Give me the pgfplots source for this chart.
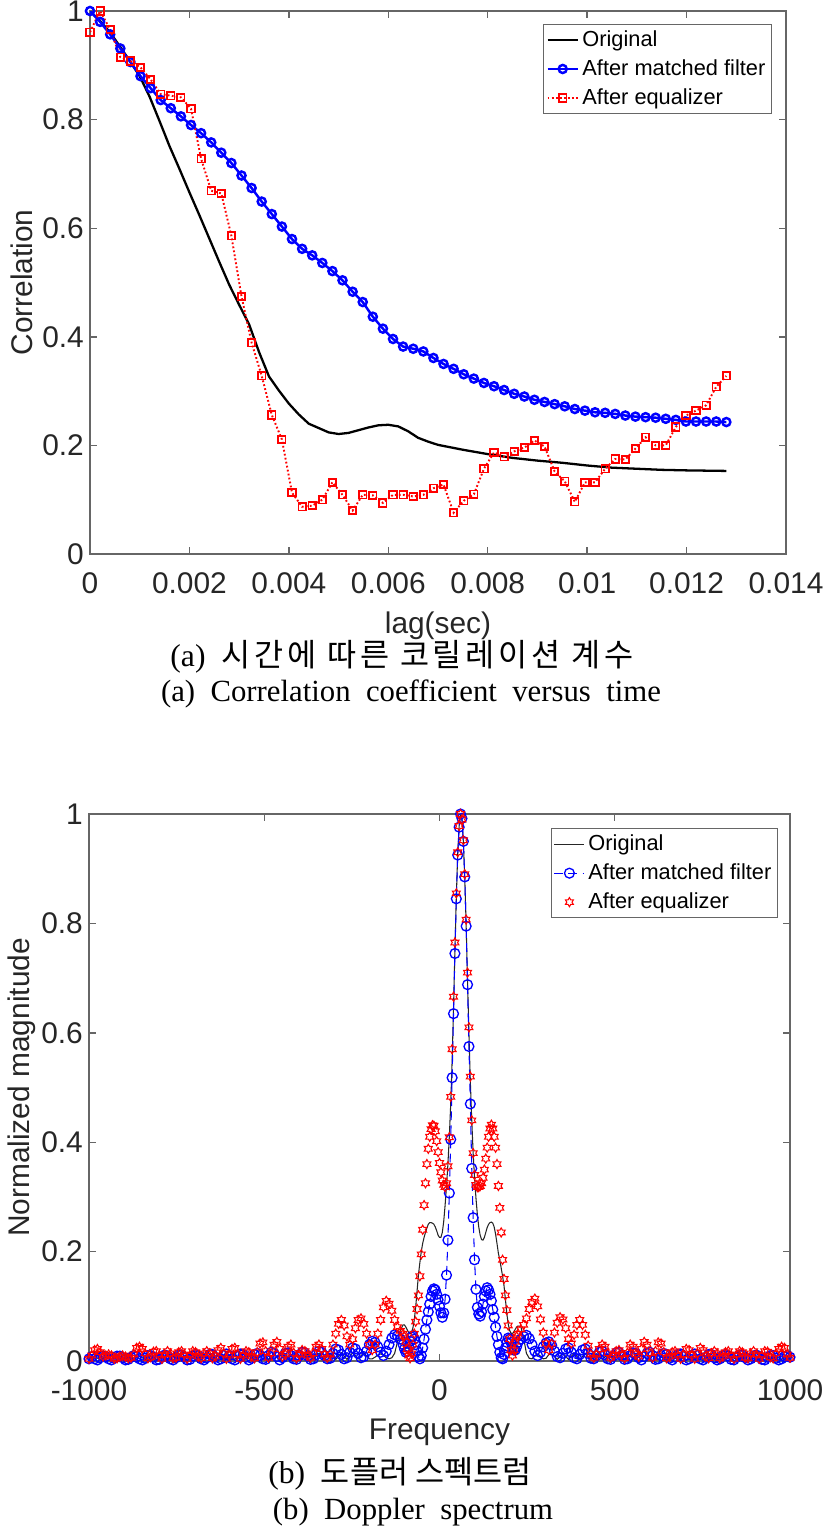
\documentclass[border=0pt]{standalone}
\usepackage{fontspec}
\setmainfont{Liberation Sans}
\newfontfamily\capserif{Liberation Serif}
\newfontfamily\kr[LetterSpace=12]{Noto Sans CJK KR}
\newfontfamily\krb{Noto Sans CJK KR}
\usepackage{pgfplots}
\usepackage{pgfplotstable}
\pgfplotsset{compat=1.18}

\pgfdeclareplotmark{hexagram}{%
\pgfpathmoveto{\pgfpointpolar{90}{\pgfplotmarksize}}%
\pgfpathlineto{\pgfpointpolar{120}{0.577\pgfplotmarksize}}%
\pgfpathlineto{\pgfpointpolar{150}{\pgfplotmarksize}}%
\pgfpathlineto{\pgfpointpolar{180}{0.577\pgfplotmarksize}}%
\pgfpathlineto{\pgfpointpolar{210}{\pgfplotmarksize}}%
\pgfpathlineto{\pgfpointpolar{240}{0.577\pgfplotmarksize}}%
\pgfpathlineto{\pgfpointpolar{270}{\pgfplotmarksize}}%
\pgfpathlineto{\pgfpointpolar{300}{0.577\pgfplotmarksize}}%
\pgfpathlineto{\pgfpointpolar{330}{\pgfplotmarksize}}%
\pgfpathlineto{\pgfpointpolar{0}{0.577\pgfplotmarksize}}%
\pgfpathlineto{\pgfpointpolar{30}{\pgfplotmarksize}}%
\pgfpathlineto{\pgfpointpolar{60}{0.577\pgfplotmarksize}}%
\pgfpathclose\pgfusepathqstroke}

\pgfplotstableread{
x b r
0 1.000 0.961
0.000203 0.980 1.000
0.000406 0.957 0.966
0.000610 0.931 0.915
0.000813 0.906 0.908
0.001016 0.880 0.896
0.001219 0.858 0.874
0.001422 0.836 0.847
0.001625 0.821 0.844
0.001829 0.806 0.841
0.002032 0.790 0.820
0.002235 0.775 0.728
0.002438 0.758 0.669
0.002641 0.739 0.664
0.002844 0.720 0.586
0.003048 0.697 0.474
0.003251 0.674 0.389
0.003454 0.649 0.328
0.003657 0.626 0.256
0.003860 0.603 0.211
0.004063 0.580 0.113
0.004267 0.562 0.087
0.004470 0.550 0.089
0.004673 0.536 0.100
0.004876 0.521 0.132
0.005079 0.504 0.109
0.005283 0.483 0.080
0.005486 0.464 0.109
0.005689 0.437 0.108
0.005892 0.415 0.094
0.006095 0.396 0.109
0.006298 0.382 0.109
0.006502 0.378 0.106
0.006705 0.373 0.109
0.006908 0.361 0.121
0.007111 0.350 0.128
0.007314 0.341 0.076
0.007517 0.331 0.098
0.007721 0.323 0.110
0.007924 0.315 0.157
0.008127 0.309 0.187
0.008330 0.302 0.179
0.008533 0.295 0.189
0.008737 0.290 0.196
0.008940 0.284 0.209
0.009143 0.280 0.198
0.009346 0.276 0.152
0.009549 0.272 0.134
0.009752 0.267 0.096
0.009956 0.264 0.132
0.010159 0.261 0.132
0.010362 0.260 0.157
0.010565 0.258 0.175
0.010768 0.255 0.174
0.010971 0.253 0.194
0.011175 0.252 0.215
0.011378 0.251 0.200
0.011581 0.249 0.200
0.011784 0.247 0.234
0.011987 0.244 0.255
0.012190 0.244 0.264
0.012394 0.244 0.274
0.012597 0.244 0.308
0.012800 0.243 0.328
}\corrtab

\pgfplotstableread{
x y
0 1.000
0.0002 0.982
0.0004 0.961
0.0006 0.935
0.0008 0.908
0.0010 0.880
0.0012 0.842
0.0014 0.797
0.0016 0.751
0.0018 0.709
0.0020 0.666
0.0022 0.624
0.0024 0.581
0.0026 0.538
0.0028 0.496
0.0030 0.459
0.0032 0.423
0.0034 0.372
0.0036 0.327
0.0038 0.301
0.0040 0.277
0.0042 0.257
0.0044 0.240
0.0046 0.232
0.0048 0.224
0.0050 0.221
0.0052 0.223
0.0054 0.228
0.0056 0.233
0.0058 0.237
0.0060 0.238
0.0062 0.235
0.0064 0.226
0.0066 0.214
0.0068 0.207
0.0070 0.201
0.0075 0.192
0.0080 0.184
0.0085 0.177
0.0090 0.172
0.0095 0.168
0.0100 0.163
0.0105 0.159
0.0110 0.157
0.0115 0.155
0.0120 0.154
0.0128 0.153
}\origA

\pgfplotstableread{
f b r
-1000 0.004 0.004
-992 0.008 0.010
-984 0.004 0.020
-976 0.002 0.022
-968 0.006 0.016
-960 0.009 0.008
-952 0.008 0.010
-944 0.004 0.012
-936 0.002 0.010
-928 0.005 0.004
-920 0.009 0.005
-912 0.009 0.008
-904 0.006 0.010
-896 0.002 0.008
-888 0.003 0.005
-880 0.007 0.006
-872 0.010 0.012
-864 0.008 0.024
-856 0.004 0.026
-848 0.002 0.022
-840 0.005 0.014
-832 0.010 0.005
-824 0.010 0.007
-816 0.007 0.017
-808 0.002 0.018
-800 0.003 0.010
-792 0.008 0.004
-784 0.011 0.012
-776 0.009 0.018
-768 0.004 0.014
-760 0.002 0.005
-752 0.006 0.006
-744 0.011 0.016
-736 0.011 0.018
-728 0.007 0.012
-720 0.002 0.004
-712 0.003 0.010
-704 0.009 0.018
-696 0.012 0.016
-688 0.010 0.008
-680 0.004 0.005
-672 0.002 0.014
-664 0.006 0.018
-656 0.012 0.014
-648 0.012 0.005
-640 0.007 0.008
-632 0.002 0.020
-624 0.004 0.024
-616 0.010 0.014
-608 0.013 0.004
-600 0.010 0.010
-592 0.004 0.022
-584 0.002 0.024
-576 0.008 0.012
-568 0.013 0.004
-560 0.012 0.010
-552 0.007 0.018
-544 0.002 0.016
-536 0.005 0.008
-528 0.012 0.005
-520 0.014 0.016
-512 0.010 0.032
-504 0.004 0.034
-496 0.003 0.018
-488 0.010 0.006
-480 0.016 0.014
-472 0.014 0.030
-464 0.008 0.035
-456 0.002 0.022
-448 0.006 0.008
-440 0.014 0.012
-432 0.015 0.026
-424 0.010 0.030
-416 0.004 0.015
-408 0.003 0.005
-400 0.010 0.012
-392 0.016 0.020
-384 0.015 0.018
-376 0.009 0.010
-368 0.003 0.006
-360 0.004 0.014
-352 0.012 0.026
-344 0.018 0.030
-336 0.016 0.022
-328 0.010 0.012
-320 0.004 0.006
-312 0.005 0.012
-304 0.014 0.030
-296 0.022 0.050
-288 0.020 0.068
-280 0.012 0.075
-272 0.004 0.065
-264 0.006 0.045
-256 0.016 0.030
-248 0.024 0.040
-240 0.022 0.060
-232 0.014 0.075
-224 0.006 0.078
-216 0.008 0.068
-208 0.018 0.050
-200 0.030 0.030
-192 0.036 0.020
-184 0.034 0.030
-176 0.026 0.050
-168 0.016 0.075
-160 0.010 0.098
-152 0.018 0.110
-144 0.030 0.105
-136 0.042 0.092
-128 0.048 0.075
-120 0.046 0.062
-112 0.040 0.055
-104 0.030 0.050
-100 0.022 0.045
-96 0.016 0.035
-92 0.018 0.022
-88 0.026 0.010
-84 0.036 0.005
-80 0.044 0.014
-76 0.046 0.030
-72 0.040 0.050
-68 0.030 0.072
-64 0.018 0.095
-60 0.008 0.120
-56 0.004 0.155
-52 0.010 0.195
-48 0.024 0.240
-44 0.040 0.285
-40 0.058 0.325
-36 0.075 0.360
-32 0.090 0.388
-28 0.104 0.410
-24 0.118 0.424
-20 0.128 0.431
-16 0.132 0.430
-12 0.130 0.420
-8 0.122 0.402
-4 0.112 0.382
0 0.100 0.362
4 0.088 0.345
8 0.080 0.330
12 0.088 0.322
16 0.113 0.318
20 0.157 0.325
24 0.221 0.356
28 0.307 0.409
32 0.405 0.483
36 0.518 0.570
40 0.635 0.666
44 0.745 0.765
48 0.845 0.855
52 0.925 0.930
56 0.976 0.978
60 1.000 1.000
64 0.992 0.990
68 0.950 0.952
72 0.885 0.890
76 0.795 0.807
80 0.688 0.710
84 0.575 0.610
88 0.470 0.520
92 0.352 0.440
96 0.262 0.380
100 0.185 0.340
104 0.131 0.322
108 0.098 0.318
112 0.086 0.318
116 0.082 0.320
120 0.090 0.325
124 0.104 0.335
128 0.118 0.350
132 0.128 0.370
136 0.134 0.390
140 0.130 0.410
144 0.122 0.425
148 0.110 0.432
152 0.094 0.425
156 0.080 0.410
160 0.062 0.390
164 0.045 0.360
168 0.030 0.320
172 0.016 0.280
176 0.006 0.235
180 0.004 0.185
184 0.012 0.150
188 0.024 0.120
192 0.034 0.093
196 0.042 0.065
200 0.040 0.040
204 0.034 0.020
208 0.026 0.010
212 0.020 0.020
216 0.020 0.035
220 0.026 0.045
224 0.034 0.050
232 0.040 0.058
240 0.045 0.066
248 0.047 0.078
256 0.041 0.095
264 0.030 0.108
272 0.018 0.114
280 0.010 0.100
288 0.016 0.076
296 0.026 0.052
304 0.033 0.032
312 0.035 0.020
320 0.029 0.032
328 0.018 0.052
336 0.008 0.070
344 0.006 0.080
352 0.014 0.076
360 0.022 0.060
368 0.024 0.040
376 0.016 0.032
384 0.006 0.048
392 0.004 0.066
400 0.012 0.075
408 0.020 0.066
416 0.022 0.048
424 0.014 0.028
432 0.005 0.012
440 0.004 0.006
448 0.010 0.012
456 0.016 0.022
464 0.018 0.030
472 0.012 0.026
480 0.004 0.014
488 0.003 0.006
496 0.009 0.010
504 0.015 0.018
512 0.016 0.020
520 0.010 0.012
528 0.003 0.005
536 0.004 0.015
544 0.010 0.030
552 0.015 0.026
560 0.014 0.012
568 0.006 0.008
576 0.002 0.022
584 0.008 0.035
592 0.014 0.030
600 0.016 0.014
608 0.010 0.006
616 0.003 0.018
624 0.004 0.034
632 0.010 0.032
640 0.014 0.016
648 0.012 0.005
656 0.005 0.008
664 0.002 0.016
672 0.007 0.018
680 0.012 0.010
688 0.013 0.004
696 0.008 0.012
704 0.002 0.022
712 0.004 0.020
720 0.010 0.010
728 0.013 0.004
736 0.010 0.014
744 0.004 0.024
752 0.002 0.020
760 0.007 0.008
768 0.012 0.005
776 0.012 0.014
784 0.006 0.018
792 0.002 0.014
800 0.004 0.005
808 0.010 0.008
816 0.012 0.016
824 0.009 0.018
832 0.003 0.010
840 0.002 0.004
848 0.007 0.012
856 0.011 0.018
864 0.011 0.016
872 0.006 0.006
880 0.002 0.005
888 0.004 0.014
896 0.009 0.018
904 0.011 0.012
912 0.008 0.004
920 0.003 0.010
928 0.002 0.018
936 0.007 0.017
944 0.010 0.007
952 0.010 0.005
960 0.005 0.014
968 0.002 0.022
976 0.004 0.026
984 0.008 0.024
992 0.010 0.012
1000 0.007 0.006
}\spec

\pgfplotstableread{
f y
-1000 0.004
-984 0.008
-968 0.003
-952 0.008
-936 0.003
-920 0.008
-904 0.003
-888 0.008
-872 0.003
-856 0.009
-840 0.003
-824 0.009
-808 0.003
-792 0.009
-776 0.003
-760 0.009
-744 0.003
-728 0.009
-712 0.003
-696 0.010
-680 0.003
-664 0.010
-648 0.003
-632 0.010
-616 0.003
-600 0.010
-584 0.003
-568 0.011
-552 0.003
-536 0.011
-520 0.003
-504 0.012
-488 0.003
-472 0.012
-456 0.003
-440 0.012
-424 0.003
-408 0.013
-392 0.003
-376 0.013
-360 0.003
-344 0.014
-328 0.003
-312 0.014
-296 0.003
-280 0.015
-264 0.003
-248 0.015
-232 0.004
-216 0.015
-200 0.004
-192 0.004
-184 0.007
-176 0.011
-168 0.013
-160 0.011
-152 0.006
-144 0.004
-136 0.006
-128 0.014
-120 0.035
-112 0.056
-104 0.066
-100 0.066
-96 0.062
-92 0.057
-88 0.052
-84 0.050
-80 0.052
-76 0.060
-72 0.075
-68 0.098
-64 0.128
-60 0.158
-56 0.180
-52 0.200
-48 0.215
-44 0.226
-40 0.235
-36 0.243
-32 0.250
-28 0.253
-24 0.253
-20 0.252
-16 0.250
-12 0.245
-8 0.238
-4 0.230
0 0.226
4 0.226
8 0.235
12 0.255
16 0.285
20 0.320
24 0.360
28 0.410
32 0.470
36 0.548
40 0.645
44 0.752
48 0.848
52 0.928
56 0.978
60 1.000
64 0.990
68 0.950
72 0.885
76 0.797
80 0.695
84 0.597
88 0.510
92 0.440
96 0.380
100 0.335
104 0.298
108 0.268
112 0.245
116 0.230
120 0.222
124 0.221
128 0.226
132 0.235
136 0.244
140 0.250
144 0.253
148 0.254
152 0.252
156 0.245
160 0.232
164 0.215
168 0.197
172 0.185
176 0.170
180 0.155
184 0.138
188 0.113
192 0.087
196 0.068
200 0.056
204 0.051
208 0.050
212 0.053
216 0.058
220 0.062
224 0.064
232 0.063
240 0.042
248 0.014
256 0.005
264 0.004
272 0.010
280 0.013
288 0.009
296 0.004
304 0.005
312 0.012
320 0.013
328 0.008
336 0.003
352 0.014
368 0.003
384 0.014
400 0.003
416 0.013
432 0.003
448 0.013
464 0.003
480 0.012
496 0.003
512 0.012
528 0.003
544 0.011
560 0.003
576 0.011
592 0.003
608 0.010
624 0.003
640 0.010
656 0.003
672 0.010
688 0.003
704 0.009
720 0.003
736 0.009
752 0.003
768 0.009
784 0.003
800 0.009
816 0.003
832 0.008
848 0.003
864 0.008
880 0.003
896 0.008
912 0.003
928 0.008
944 0.003
960 0.008
976 0.003
992 0.008
1000 0.005
}\origB

\pgfplotsset{
  myax/.style={
    scale only axis,
    axis line style={black!60, line width=0.8pt},
    every tick/.style={black!60, line width=0.8pt},
    major tick length=4pt,
    tick align=inside,
    ticklabel style={font=\fontsize{17}{20}\selectfont, text=black!85},
    xticklabel style={yshift=-7pt},
    scaled x ticks=false,
    scaled y ticks=false,
    /pgf/number format/assume math mode=true,
    ymin=0, ymax=1,
    ytick={0,0.2,0.4,0.6,0.8,1},
    yticklabels={0,0.2,0.4,0.6,0.8,1},
    legend cell align=left,
    legend style={font=\fontsize{12.4}{14}\selectfont, draw=black!60, line width=0.7pt,
      anchor=north east, inner sep=1.5pt, row sep=2pt},
  }
}

\begin{document}
\begin{tikzpicture}
\path[use as bounding box] (0,0) rectangle (16.54cm,-30.74cm);

\begin{axis}[myax,
  at={(1.80cm,-11.08cm)}, anchor=south west,
  width=13.92cm, height=10.86cm,
  xmin=0, xmax=0.014,
  xtick={0,0.002,0.004,0.006,0.008,0.01,0.012,0.014},
  xticklabels={0,0.002,0.004,0.006,0.008,0.01,0.012,0.014},
  legend style={at={(axis description cs:0.98,0.976)}},
]
\addplot[black, line width=1.3pt] table[x=x,y=y] {\origA};
\addlegendentry{Original}
\addplot[blue, line width=1.4pt, mark=o, mark size=2.3pt, mark options={solid, line width=1.4pt}] table[x=x,y=b] {\corrtab};
\addlegendentry{After matched filter}
\addplot[red, line width=1.1pt, dash pattern=on 1pt off 1.3pt, mark=square, mark size=2.1pt, mark options={solid, line width=1pt}] table[x=x,y=r] {\corrtab};
\addlegendentry{After equalizer}
\end{axis}

\begin{axis}[myax,
  at={(1.78cm,-27.22cm)}, anchor=south west,
  width=14.02cm, height=10.94cm,
  xmin=-1000, xmax=1000,
  xtick={-1000,-500,0,500,1000},
  xticklabels={-1000,-500,0,500,1000},
  legend style={at={(axis description cs:0.983,0.974)}},
]
\addplot[black!85, line width=0.6pt] table[x=f,y=y] {\origB};
\addlegendentry{Original}
\addplot[blue, line width=0.6pt, dash pattern=on 5pt off 3pt, mark=o, mark size=2.8pt, mark options={solid, line width=0.75pt}] table[x=f,y=b] {\spec};
\addlegendentry{After matched filter}
\addplot[red, only marks, mark=hexagram, mark size=2.6pt, mark options={line width=0.6pt}] table[x=f,y=r] {\spec};
\addlegendentry{After equalizer}
\end{axis}

\begin{scope}[every node/.style={inner sep=0pt}]
\node[font=\fontsize{17}{20}\selectfont, text=black!85] at (8.76cm,-12.52cm) {lag(sec)};
\node[font=\fontsize{17}{20}\selectfont, text=black!85, rotate=90] at (0.44cm,-5.65cm) {Correlation};
\node[font=\fontsize{17}{20}\selectfont, text=black!85] at (8.79cm,-28.64cm) {Frequency};
\node[font=\fontsize{17}{20}\selectfont, text=black!85, rotate=90] at (0.44cm,-21.75cm) {Normalized magnitude};

\node[font=\fontsize{18}{22}\selectfont] at (8.04cm,-13.14cm) {\capserif (a)\ \ {\kr 시간에 따른 코릴레이션 계수}};
\node[font=\fontsize{17.5}{22}\selectfont] at (8.22cm,-13.88cm) {\capserif (a)\ \ Correlation\ \ coefficient\ \ versus\ \ time};
\node[font=\fontsize{18}{22}\selectfont] at (8.00cm,-29.48cm) {\capserif (b)\ \ {\krb 도플러 스펙트럼}};
\node[font=\fontsize{17.5}{22}\selectfont] at (8.26cm,-30.24cm) {\capserif (b)\ \ Doppler\ \ spectrum};
\end{scope}
\end{tikzpicture}
\end{document}
